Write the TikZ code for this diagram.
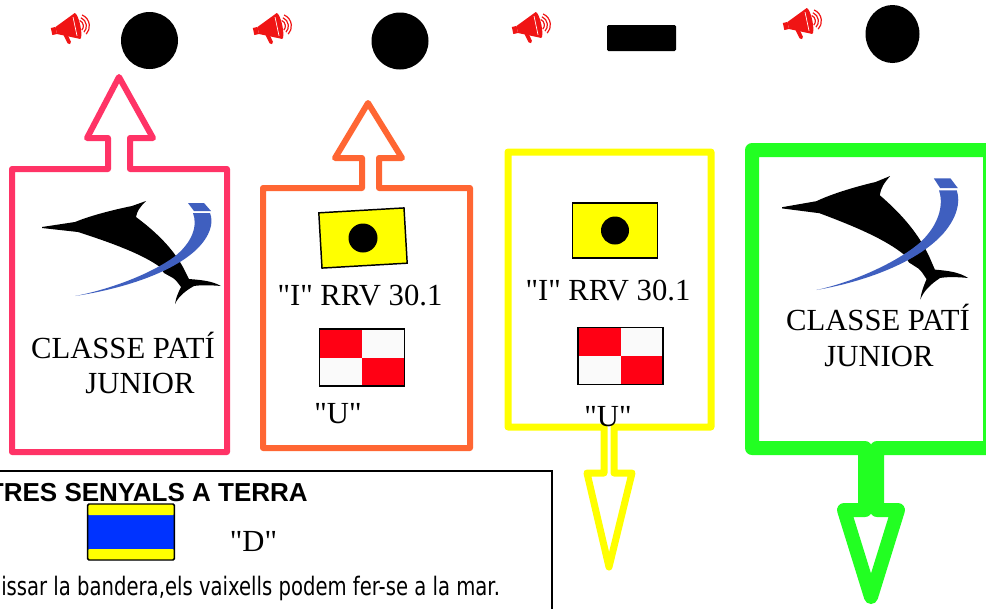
\documentclass[tikz,border=0pt]{standalone}
\usepackage{fontspec}
\setmainfont{Liberation Serif}[Ligatures=TeXOff]
\newfontfamily\headfont{Liberation Sans}
\newfontfamily\notefont{DejaVu Sans}
\usetikzlibrary{shapes.geometric}
\definecolor{cpink}{RGB}{255,51,102}
\definecolor{corange}{RGB}{255,102,51}
\definecolor{cyellow}{RGB}{255,255,0}
\definecolor{cgreen}{RGB}{34,255,34}
\definecolor{cmega}{RGB}{240,20,20}
\definecolor{cswoosh}{RGB}{63,95,191}
\definecolor{cflagblue}{RGB}{0,51,255}
\definecolor{cflagred}{RGB}{255,0,20}
\definecolor{cflagwhite}{RGB}{250,250,250}
\tikzset{
  signboard/.style={line width=#1, line join=round, fill=white},
  sigdot/.style={circle, fill=black, inner sep=0, minimum size=42.75pt},
  sigbar/.style={rectangle, fill=black, rounded corners=1pt, inner sep=0, minimum width=51.75pt, minimum height=19.5pt},
  lbl/.style={inner sep=0, anchor=base, font=\fontsize{23}{27}\selectfont},
  flagI/.style={rectangle, draw=black, line width=1.1pt, fill=cyellow, inner sep=0, minimum width=64pt, minimum height=41.5pt},
  flagU/.style={rectangle, draw=black, line width=1.1pt, fill=cflagwhite, inner sep=0, minimum width=64pt, minimum height=42.5pt,
    path picture={\fill[cflagred] (path picture bounding box.north west) rectangle (path picture bounding box.center);
                  \fill[cflagred] (path picture bounding box.center) rectangle (path picture bounding box.south east);}},
  flagDst/.style={rectangle, draw=black, line width=1.1pt, fill=cflagblue, rounded corners=1pt, inner sep=0, minimum width=65pt, minimum height=42pt,
    path picture={\fill[cyellow] (path picture bounding box.north west) rectangle ([yshift=-8.25pt]path picture bounding box.north east);
                  \fill[cyellow] ([yshift=8.25pt]path picture bounding box.south west) rectangle (path picture bounding box.south east);}},
  pics/megaphone/.style={code={
    \begin{scope}[rotate=12, scale=1.2]
      \fill[cmega] (-14,-3) rectangle (-10,3);
      \fill[cmega] (-10,-3) -- (8,-11) -- (8,11) -- (-10,3) -- cycle;
      \fill[cmega] (8,0) ellipse [x radius=2.5, y radius=11];
      \draw[white, line width=0.5pt] (6,-8) -- (6,8);
      \draw[cmega, line width=2.8pt, line cap=round] (-4,2) -- (-1.5,12);
      \foreach \r in {5,7.5,10}
        \draw[cmega, line width=0.9pt] ([shift={(-55:\r)}]8,0) arc[start angle=-55, end angle=55, radius=\r];
    \end{scope}
  }},
  pics/marlin/.style={code={
    \fill[black] (0,26) -- (33,21) .. controls (50,14) and (75,8) .. (90,5) -- (104,0)
      .. controls (98,6) and (95,10) .. (94,16) .. controls (110,28) and (130,45) .. (142,68)
      -- (147,78) .. controls (160,79) and (170,80) .. (179,85)
      .. controls (168,84) and (158,84) .. (152,85) .. controls (143,90) and (136,96) .. (133,103)
      .. controls (134,96) and (137,90) .. (139,86) .. controls (136,82) and (134,79) .. (131,77)
      -- (122,72) -- (118,66) .. controls (100,53) and (70,42) .. (36,31) -- (0,27) -- cycle;
    \fill[cswoosh] (33,95) .. controls (80,88) and (130,72) .. (155,48)
      .. controls (168,35) and (172,22) .. (168,12) -- (151,12)
      .. controls (156,25) and (150,42) .. (132,56) .. controls (110,72) and (70,88) .. (33,95) -- cycle;
    \fill[cswoosh] (146,2) -- (162,2) -- (169,10) -- (152,10) -- cycle;
  }}
}
\begin{document}
\begin{tikzpicture}[x=0.75pt,y=-0.75pt]
\useasboundingbox (0,0) rectangle (986,608);
\clip (0,0) rectangle (986,608);

% ---- top row: sound signals
\pic (mega1) at (68,28) {megaphone};
\pic (mega2) at (270,28) {megaphone};
\pic (mega3) at (529,27) {megaphone};
\pic (mega4) at (800,23) {megaphone};
\node[sigdot] (dot1) at (149.5,40.5) {};
\node[sigdot] (dot2) at (400,41) {};
\node[sigbar] (bar3) at (641.5,38) {};
\node[ellipse, fill=black, inner sep=0, minimum width=40.5pt, minimum height=43.5pt] (dot4) at (892.5,34) {};

% ---- bottom box
\draw[line width=1.8pt] (-10,471) rectangle (552,640);

% ---- signboards with arrows
\draw[signboard=4.5pt, draw=cpink] (108,169) -- (12,169) -- (12,452) -- (227,452) -- (227,169) -- (130,169)
  -- (130,138) -- (153,138) -- (119,77) -- (87,138) -- (108,138) -- cycle;
\draw[signboard=4.5pt, draw=corange] (362,188) -- (263,188) -- (263,448) -- (470,448) -- (470,188) -- (379,188)
  -- (379,158) -- (402,158) -- (368,103) -- (335,158) -- (362,158) -- cycle;
\draw[signboard=5.25pt, draw=cyellow] (604,427) -- (508,427) -- (508,152) -- (711,152) -- (711,427) -- (614,427)
  -- (614,473) -- (632,473) -- (609,567) -- (587,473) -- (604,473) -- cycle;
\draw[signboard=10.5pt, draw=cgreen] (865,448) -- (752,448) -- (752,150) -- (990,150) -- (990,448) -- (877,448)
  -- (877,510) -- (898,510) -- (871,597) -- (844,510) -- (865,510) -- cycle;

% ---- logos
\pic (logo1) at (42,201) {marlin};
\pic[xscale=1.04, yscale=1.2] (logo4) at (782,176) {marlin};

% ---- flags
\node[flagI, rotate=3.3] (flagI2) at (363,238) {};
\fill (flagI2.center) circle [radius=14.5];
\node[flagU] (flagU2) at (362,357.5) {};
\node[flagI] (flagI3) at (615,230.5) {};
\fill (flagI3.center) circle [radius=14];
\node[flagU] (flagU3) at (620.5,356) {};
\node[flagDst] (flagD) at (131,532) {};

% ---- texts
\node[lbl] (cl1) at (123,358) {CLASSE PATÍ};
\node[lbl] (jr1) at (140,393) {JUNIOR};
\node[lbl] (rrv2) at (360,305) {"I" RRV 30.1};
\node[lbl] (u2) at (338,423) {"U"};
\node[lbl] (rrv3) at (608,300) {"I" RRV 30.1};
\node[lbl] (u3) at (608,426) {"U"};
\node[lbl] (cl4) at (878,330) {CLASSE PATÍ};
\node[lbl] (jr4) at (879,366) {JUNIOR};
\node[lbl] (dlab) at (253.5,551) {"D"};
\node[anchor=base east, inner sep=0, font=\headfont\bfseries\fontsize{19.5}{23}\selectfont] (head) at (308,501) {TRES SENYALS A TERRA};
\node[anchor=base west, inner sep=0] (note) at (1,595) {\resizebox{374pt}{14.5pt}{\notefont issar la bandera,els vaixells podem fer-se a la mar.}};
\end{tikzpicture}
\end{document}
